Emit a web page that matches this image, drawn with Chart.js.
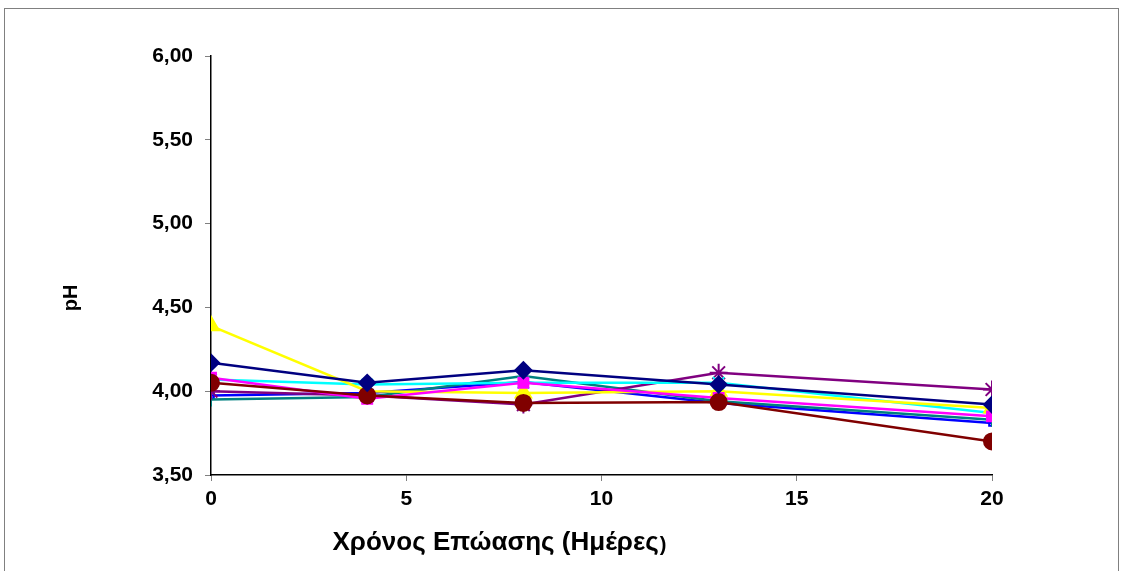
<!DOCTYPE html>
<html>
<head>
<meta charset="utf-8">
<title>pH</title>
<script src="https://cdn.jsdelivr.net/npm/chart.js"></script>
<style>
body { margin: 0; background: #fff; }
#wrap { width: 1124px; height: 571px; }
</style>
</head>
<body>
<div id="wrap"><canvas id="ph-chart" width="1124" height="571"></canvas></div>
<script>
var days = [0, 4, 8, 13, 20];
var navy = [4.17, 4.05, 4.125, 4.04, 3.92];
var magenta = [4.08, 3.955, 4.05, 3.96, 3.85];
var yellow = [4.39, 4.0, 3.99, 4.0, 3.90];
var cyan = [4.07, 4.04, 4.05, 4.05, 3.87];
var purple = [4.0, 3.975, 3.92, 4.11, 4.01];
var maroon = [4.05, 3.975, 3.93, 3.935, 3.70];
var teal = [3.95, 3.965, 4.09, 3.94, 3.83];
var blue = [3.975, 3.99, 4.055, 3.93, 3.81];
var yTicks = [3.5, 4.0, 4.5, 5.0, 5.5, 6.0];
var xTicks = [0, 5, 10, 15, 20];

var FONT = '"Liberation Sans", Arial, sans-serif';

function pts(vals) {
  var out = [];
  for (var i = 0; i < days.length; i++) out.push({x: days[i], y: vals[i]});
  return out;
}

function serie(name, vals, color, style, radius, rot, filled) {
  return {
    label: name,
    data: pts(vals),
    showLine: true,
    borderColor: color,
    backgroundColor: filled ? color : 'rgba(0,0,0,0)',
    pointBorderColor: color,
    pointBackgroundColor: filled ? color : 'rgba(0,0,0,0)',
    borderWidth: 2.5,
    pointBorderWidth: 2,
    pointStyle: style,
    pointRadius: radius,
    pointRotation: rot || 0,
    tension: 0
  };
}

var framePlugin = {
  id: 'frame',
  afterDraw: function(chart) {
    var ctx = chart.ctx;
    ctx.save();
    ctx.strokeStyle = '#808080';
    ctx.lineWidth = 1;
    ctx.strokeRect(4.5, 8.5, 1114, 600);
    ctx.fillStyle = '#000';
    ctx.textBaseline = 'middle';
    // x axis title, closing bracket is a bit smaller in the original
    ctx.font = 'bold 26px ' + FONT;
    var main = 'Χρόνος Επώασης (Ημέρες';
    var w1 = ctx.measureText(main).width;
    ctx.font = 'bold 20px ' + FONT;
    var w2 = ctx.measureText(')').width;
    var x0 = 499 - (w1 + w2) / 2;
    ctx.textAlign = 'left';
    ctx.font = 'bold 26px ' + FONT;
    ctx.fillText(main, x0, 543);
    ctx.font = 'bold 20px ' + FONT;
    ctx.fillText(')', x0 + w1 + 1, 545);
    // y axis title
    ctx.textAlign = 'center';
    ctx.translate(71, 298);
    ctx.rotate(-Math.PI / 2);
    ctx.font = 'bold 20px ' + FONT;
    ctx.fillText('pH', 0, 0);
    ctx.restore();
  }
};

new Chart(document.getElementById('ph-chart'), {
  type: 'scatter',
  data: {
    datasets: [
      serie('1', navy, '#000080', 'rectRot', 8, 0, true),
      serie('6', maroon, '#800000', 'circle', 8, 0, true),
      serie('2', magenta, '#FF00FF', 'rect', 7, 0, true),
      serie('3', yellow, '#FFFF00', 'triangle', 9, 0, true),
      serie('4', cyan, '#00FFFF', 'crossRot', 8, 0, false),
      serie('5', purple, '#800080', 'star', 9, 0, false),
      serie('7', teal, '#008080', 'line', 7, 90, false),
      serie('8', blue, '#0000FF', 'rect', 4, 0, false)
    ]
  },
  options: {
    responsive: false,
    animation: false,
    layout: { padding: { left: 0, top: 56, right: 132, bottom: 0 } },
    plugins: { legend: { display: false }, tooltip: { enabled: false } },
    scales: {
      x: {
        type: 'linear',
        min: 0, max: 20,
        afterFit: function(s) { s.height = 96; },
        afterBuildTicks: function(s) { s.ticks = xTicks.map(function(v) { return {value: v}; }); },
        grid: { drawOnChartArea: false, tickLength: 6, color: '#808080' },
        border: { color: '#000', width: 1.5 },
        ticks: { color: '#000', padding: 6, font: { family: FONT, size: 21, weight: 'bold' } }
      },
      y: {
        min: 3.5, max: 6,
        afterFit: function(s) { s.width = 211; },
        afterBuildTicks: function(s) { s.ticks = yTicks.map(function(v) { return {value: v}; }); },
        grid: { drawOnChartArea: false, tickLength: 6, color: '#808080' },
        border: { color: '#000', width: 1.5 },
        ticks: {
          color: '#000', padding: 12,
          font: { family: FONT, size: 21, weight: 'bold' },
          callback: function(v) { return v.toFixed(2).replace('.', ','); }
        }
      }
    }
  },
  plugins: [framePlugin]
});
</script>
</body>
</html>
